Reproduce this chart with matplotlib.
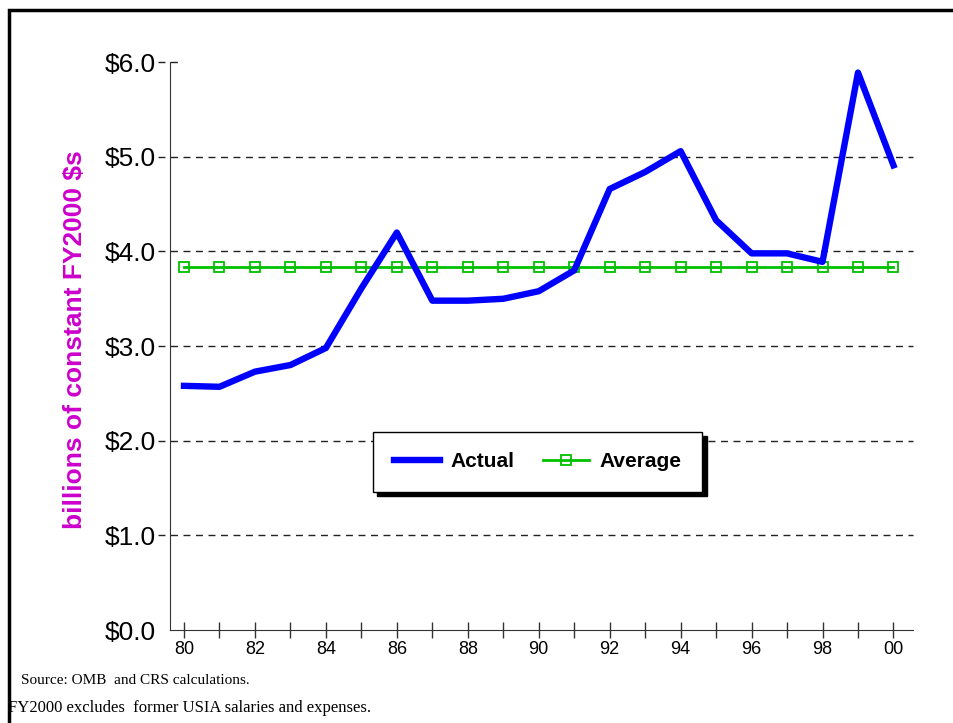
import matplotlib.pyplot as plt
from matplotlib.patches import Rectangle

# data
years = list(range(80, 101))
actual = [2.58, 2.57, 2.73, 2.80, 2.98, 3.61, 4.20, 3.48, 3.48, 3.50, 3.58,
          3.80, 4.66, 4.84, 5.06, 4.33, 3.98, 3.98, 3.89, 5.89, 4.91]
average = 3.84
y_ticks = [0, 1, 2, 3, 4, 5, 6]
y_labels = ['$0.0', '$1.0', '$2.0', '$3.0', '$4.0', '$5.0', '$6.0']
x_labels = ['80', '82', '84', '86', '88', '90', '92', '94', '96', '98', '00']

plt.rcParams['font.family'] = ['Liberation Sans', 'DejaVu Sans']

fig = plt.figure(figsize=(9.54, 7.23), dpi=100)
ax = fig.add_axes([0.178, 0.1286, 0.779, 0.7854])

ax.plot(years, actual, color='#0000FF', lw=4.6, label='Actual', zorder=4)
ax.plot(years, [average] * len(years), color='#00C000', lw=2,
        marker='s', ms=7, mfc='none', mec='#00C000', mew=1.3,
        label='Average', zorder=3)

ax.set_xlim(79.6, 100.55)
ax.set_ylim(0, 6)

# dashed grid lines, reaching a bit left of the axis like the original
for y in y_ticks[1:]:
    right = 1 if y < 6 else 0.012
    ax.axhline(y, xmin=-0.016, xmax=right, clip_on=False, color='#222222',
               lw=1, ls=(0, (5, 4)), zorder=1)

ax.set_yticks(y_ticks)
ax.set_yticklabels(y_labels, fontsize=19)
ax.tick_params(axis='y', length=0, pad=10)

ax.set_xticks(years)
ax.set_xticklabels([x_labels[i // 2] if i % 2 == 0 else '' for i in range(len(years))],
                   fontsize=13)
ax.tick_params(axis='x', direction='inout', length=12, width=1, color='#333333', pad=2)

for s in ['top', 'right']:
    ax.spines[s].set_visible(False)
ax.spines['left'].set_color('#333333')
ax.spines['bottom'].set_color('#333333')

leg = ax.legend(loc='center', bbox_to_anchor=(0.495, 0.296), ncol=2,
                prop={'weight': 'bold', 'size': 15}, frameon=True, fancybox=False,
                shadow={'color': 'black', 'alpha': 1, 'ox': 3, 'oy': -3},
                borderpad=1.0, columnspacing=1.4, handlelength=2.2,
                handletextpad=0.5)
leg.get_frame().set_edgecolor('black')
leg.get_frame().set_linewidth(1)

fig.text(75 / 954, 1 - 340 / 723, 'billions of constant FY2000 $s', rotation=90,
         color='#CC00CC', fontsize=19, fontweight='bold', ha='center', va='center')

fig.text(21 / 954, 1 - 680 / 723, 'Source: OMB  and CRS calculations.',
         family='Liberation Serif', fontsize=11, va='center')
fig.text(8 / 954, 1 - 708 / 723, 'FY2000 excludes  former USIA salaries and expenses.',
         family='Liberation Serif', fontsize=12, va='center')

# outer frame
fig.patches.append(Rectangle((9 / 954, -0.1), 1.0, 1 - 10 / 723 + 0.1,
                             transform=fig.transFigure, fill=False,
                             edgecolor='black', lw=2.5))

fig.savefig('out.png', dpi=100)
